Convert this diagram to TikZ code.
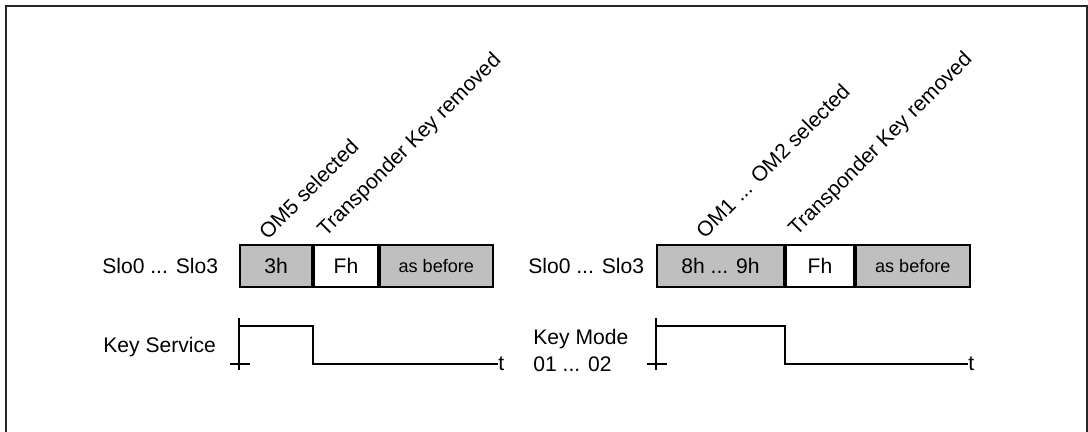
\documentclass[tikz,border=0pt]{standalone}
\usepackage{fontspec}
\setmainfont{Liberation Sans}
\usetikzlibrary{positioning}

\tikzset{
    cell/.style={draw=black, line width=1.1pt, minimum height=0.84cm, inner sep=0pt,
        font=\fontsize{12}{14}\selectfont},
    grey/.style={fill=black!25},
    sig/.style={line width=1.1pt},
    lbl/.style={anchor=west, inner sep=0pt, font=\fontsize{12}{15.3}\selectfont, align=left},
    evt/.style={rotate=45, anchor=south west, inner sep=0pt, font=\fontsize{12}{14}\selectfont}
}

\begin{document}
\begin{tikzpicture}[x=0.02cm, y=-0.02cm]
    \useasboundingbox (0,0) rectangle (1088,432);
    % frame, open at the bottom
    \draw[black!85, line width=1.1pt] (6,440) -- (6,6) -- (1087,6) -- (1087,440);

    % left: key service
    \node[lbl] (sloL) at (102,266) {Slo0 ... Slo3};
    \node[cell, grey, minimum width=1.44cm] (L1) at (276,266) {3h};
    \node[cell, minimum width=1.28cm, right=0pt of L1] (L2) {Fh};
    \node[cell, grey, minimum width=2.26cm, right=0pt of L2,
        font=\fontsize{10.3}{12}\selectfont] (L3) {as before};

    \node[evt] (omL) at (268,241) {OM5 selected};
    \node[evt] (trL) at (329,241) {Transponder Key removed};

    \node[lbl] (keyL) at (103,347) {Key Service};
    \node[lbl] (tL) at (498,364) {t};
    \draw[sig] (L1.west |- 0,318) -- (L1.west |- 0,370);
    \draw[sig] (230,364) -- (250,364);
    \draw[sig] (L1.west |- 0,326) -- (L1.east |- 0,326) -- (L1.east |- 0,364) -- (tL.west);

    % right: key mode
    \node[lbl] (sloR) at (528,266) {Slo0 ... Slo3};
    \node[cell, grey, minimum width=2.54cm] (R1) at (720.5,266) {8h ... 9h};
    \node[cell, minimum width=1.36cm, right=0pt of R1] (R2) {Fh};
    \node[cell, grey, minimum width=2.28cm, right=0pt of R2,
        font=\fontsize{10.3}{12}\selectfont] (R3) {as before};

    \node[evt] (omR) at (705,240) {OM1 ... OM2 selected};
    \node[evt] (trR) at (800,240) {Transponder Key removed};

    \node[lbl] (keyR) at (533,350.5) {Key Mode\\01 ... 02};
    \node[lbl] (tR) at (968,364) {t};
    \draw[sig] (R1.west |- 0,318) -- (R1.west |- 0,370);
    \draw[sig] (647,364) -- (667,364);
    \draw[sig] (R1.west |- 0,326) -- (R1.east |- 0,326) -- (R1.east |- 0,364) -- (tR.west);
\end{tikzpicture}
\end{document}
